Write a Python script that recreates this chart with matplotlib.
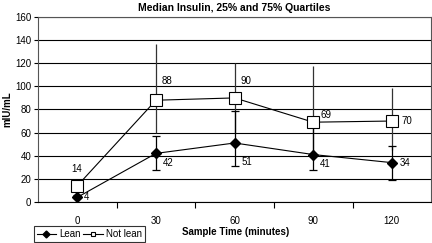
import matplotlib
matplotlib.use('Agg')
import matplotlib.pyplot as plt
import numpy as np

plt.rcParams['font.family'] = ['Liberation Sans', 'DejaVu Sans']

times = ['0', '30', '60', '90', '120']
lean = [4, 42, 51, 41, 34]
lean_q25 = [3, 28, 31, 28, 19]
lean_q75 = [6, 57, 79, 68, 48]
not_lean = [14, 88, 90, 69, 70]
not_lean_q25 = [12, 60, 60, 42, 45]
not_lean_q75 = [16, 137, 120, 118, 99]

x = np.arange(len(times))

fig = plt.figure(figsize=(4.32, 2.43), dpi=100)
ax = fig.add_axes([0.088, 0.169, 0.91, 0.761])

# error bars (not lean without caps, lean with caps)
ax.errorbar(x, not_lean,
            yerr=[np.array(not_lean) - np.array(not_lean_q25), np.array(not_lean_q75) - np.array(not_lean)],
            fmt='none', ecolor='#333333', elinewidth=0.9, capsize=0, zorder=3)
ax.errorbar(x, lean,
            yerr=[np.array(lean) - np.array(lean_q25), np.array(lean_q75) - np.array(lean)],
            fmt='none', ecolor='black', elinewidth=0.9, capsize=3, capthick=0.9, zorder=3)

ax.plot(x, lean, color='black', lw=0.8, marker='D', markersize=5.5,
        markerfacecolor='black', markeredgecolor='black', label='Lean', zorder=4)
ax.plot(x, not_lean, color='black', lw=0.8, marker='s', markersize=8,
        markerfacecolor='white', markeredgecolor='black', markeredgewidth=0.8,
        label='Not lean', zorder=4)

# value labels
lean_off = [(5, 0), (5, -7), (5, -14), (5, -7), (6, 0)]
for i, v in enumerate(lean):
    dx, dy = lean_off[i]
    ax.annotate(str(v), (x[i], v), xytext=(dx, dy), textcoords='offset points',
                fontsize=7, ha='left', va='center')
nl_off = [(-4, 12), (4, 14), (4, 12), (5, 5), (7, 0)]
for i, v in enumerate(not_lean):
    dx, dy = nl_off[i]
    ax.annotate(str(v), (x[i], v), xytext=(dx, dy), textcoords='offset points',
                fontsize=7, ha='left', va='center')

ax.set_xlim(-0.5, 4.5)
ax.set_ylim(0, 160)
ax.set_yticks(np.arange(0, 161, 20))
ax.yaxis.grid(True, color='black', lw=0.8)
ax.set_axisbelow(True)

ax.set_xticks(x)
ax.set_xticklabels(times)
ax.set_xticks(np.arange(0.5, 4.5, 1), minor=True)
ax.tick_params(axis='x', which='major', length=0, pad=10, labelsize=7)
ax.tick_params(axis='x', which='minor', length=4, width=0.8, color='black')
ax.tick_params(axis='y', length=3, width=0.8, labelsize=7, pad=2)

for s in ax.spines.values():
    s.set_color('#555555')
    s.set_linewidth(0.8)
ax.spines['bottom'].set_color('black')

ax.set_title('Median Insulin, 25% and 75% Quartiles', fontsize=7.5, fontweight='bold', pad=4)
ax.set_ylabel('mIU/mL', fontsize=7, fontweight='bold', labelpad=2)
fig.text(0.545, 0.045, 'Sample Time (minutes)', fontsize=7, fontweight='bold', ha='center', va='center')

leg = fig.legend(loc='lower left', bbox_to_anchor=(0.078, 0.003), ncol=2, fontsize=7,
                 frameon=True, fancybox=False, edgecolor='black', handlelength=2.0,
                 handletextpad=0.3, columnspacing=0.3, borderpad=0.3, borderaxespad=0)
leg.get_frame().set_linewidth(0.8)
for h in leg.legend_handles:
    h.set_markersize(3.5)

fig.savefig('out.png', dpi=100)
